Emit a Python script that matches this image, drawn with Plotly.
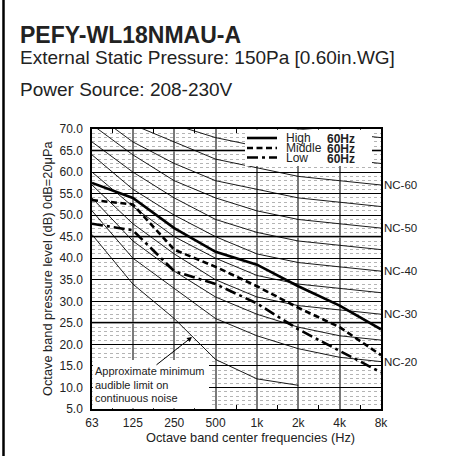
import math
import plotly.graph_objects as go

# ---------------- data ----------------
freqs = [63, 125, 250, 500, 1000, 2000, 4000, 8000]
freq_labels = ["63", "125", "250", "500", "1k", "2k", "4k", "8k"]

high = [57.5, 54.0, 47.0, 41.5, 38.5, 33.5, 29.0, 23.5]
middle = [53.5, 52.5, 42.0, 38.0, 33.5, 28.5, 24.0, 17.5]
low = [48.0, 46.5, 37.0, 34.0, 29.5, 23.5, 18.5, 13.5]

nc_names = ["NC-20", "NC-25", "NC-30", "NC-35", "NC-40", "NC-45",
            "NC-50", "NC-55", "NC-60", "NC-65", "NC-70"]
nc_20 = [51, 40, 33, 26, 22, 19, 17, 16]
nc_25 = [54, 44, 37, 31, 27, 24, 22, 21]
nc_30 = [57, 48, 41, 35, 31, 29, 28, 27]
nc_35 = [60, 52, 45, 40, 36, 34, 33, 32]
nc_40 = [64, 56, 50, 45, 41, 39, 38, 37]
nc_45 = [67, 60, 54, 49, 46, 44, 43, 42]
nc_50 = [71, 64, 58, 54, 51, 49, 48, 47]
nc_55 = [74, 67, 62, 58, 56, 54, 53, 52]
nc_60 = [77, 71, 67, 63, 61, 59, 58, 57]
nc_65 = [80, 75, 71, 68, 66, 64, 63, 62]
nc_70 = [83, 79, 75, 72, 71, 70, 69, 68]
nc_curves = [nc_20, nc_25, nc_30, nc_35, nc_40, nc_45,
             nc_50, nc_55, nc_60, nc_65, nc_70]
nc_labeled = ["NC-20", "NC-30", "NC-40", "NC-50", "NC-60"]

threshold_freqs = [63, 125, 250, 500, 1000, 2000]
threshold = [45.5, 34.0, 26.0, 16.5, 12.0, 10.5]

y_min, y_max = 5, 70

# ---------------- geometry helpers ----------------
W, H = 455, 456
L, R, T, B = 92, 74, 129, 47
PW, PH = W - L - R, H - T - B


def px(x):
    """window x -> paper x"""
    return (x - L) / PW


def py(y):
    """window y -> paper y"""
    return (H - B - y) / PH


FONT = "Liberation Sans, Arial, sans-serif"
TXT = "#222"

fig = go.Figure()

for name, vals in zip(nc_names, nc_curves):
    fig.add_trace(go.Scatter(x=freqs, y=vals, mode="lines", name=name,
                             line=dict(color="black", width=0.9),
                             showlegend=False, hoverinfo="skip"))

fig.add_trace(go.Scatter(x=threshold_freqs, y=threshold, mode="lines",
                         line=dict(color="black", width=0.9),
                         showlegend=False, hoverinfo="skip"))

series = [("High", high, "solid"), ("Middle", middle, "6px,3.5px"),
          ("Low", low, "11px,4px,3px,4px")]
for name, vals, dash in series:
    fig.add_trace(go.Scatter(x=freqs, y=vals, mode="lines", name=name,
                             line=dict(color="black", width=2.6, dash=dash),
                             showlegend=False))

half_octaves = [math.sqrt(a * b) for a, b in zip(freqs[:-1], freqs[1:])]

fig.update_layout(
    width=W, height=H,
    margin=dict(l=L, r=R, t=T, b=B, pad=0),
    paper_bgcolor="white", plot_bgcolor="white",
    font=dict(family=FONT, color=TXT),
    xaxis=dict(type="log", range=[math.log10(63), math.log10(8000)],
               tickmode="array", tickvals=freqs, ticktext=freq_labels,
               showgrid=True, gridcolor="#7a7a7a", gridwidth=2,
               showline=True, linecolor="black", linewidth=1.5, mirror="ticks",
               ticks="", tickfont=dict(size=12, family=FONT, color=TXT),
               ticklabelstandoff=2, zeroline=False,
               minor=dict(tickmode="array", tickvals=half_octaves,
                          ticks="inside", ticklen=4, tickcolor="black",
                          tickwidth=1, showgrid=False)),
    yaxis=dict(range=[y_min, y_max], tickmode="linear", tick0=5, dtick=5,
               tickformat=".1f",
               showgrid=True, gridcolor="black", gridwidth=1,
               minor=dict(dtick=1, showgrid=True, gridcolor="#b4b4b4",
                          griddash="dot", gridwidth=1),
               showline=True, linecolor="black", linewidth=1.5, mirror=True,
               ticks="", tickfont=dict(size=12, family=FONT, color=TXT),
               ticklabelstandoff=5, zeroline=False),
)

shapes = []
# gray heavy gridlines
for v in [25, 45, 65]:
    shapes.append(dict(type="line", xref="paper", yref="y", x0=0, x1=1,
                       y0=v, y1=v, line=dict(color="#9a9a9a", width=2.5),
                       layer="between"))
# legend box
shapes.append(dict(type="rect", xref="paper", yref="paper",
                   x0=px(245), x1=px(372), y0=py(166), y1=py(129.8),
                   fillcolor="white", line=dict(width=0), layer="above"))
# annotation box
shapes.append(dict(type="rect", xref="paper", yref="paper",
                   x0=px(92.8), x1=px(209), y0=py(408.2), y1=py(360),
                   fillcolor="white", line=dict(width=0), layer="above"))
# legend sample lines
leg_y = [138, 148, 157.5]
for (name, vals, dash), yy in zip(series, leg_y):
    shapes.append(dict(type="line", xref="paper", yref="paper",
                       x0=px(247), x1=px(277), y0=py(yy), y1=py(yy),
                       line=dict(color="black", width=2.6, dash=dash),
                       layer="above"))
# left frame line of the figure
shapes.append(dict(type="line", xref="paper", yref="paper",
                   x0=px(3.5), x1=px(3.5), y0=py(H + 20), y1=py(-20),
                   line=dict(color="black", width=2.5), layer="above"))
fig.update_layout(shapes=shapes)

ann = []
# titles
ann.append(dict(text="<b>PEFY-WL18NMAU-A</b>", x=px(18), y=py(34.5),
                font=dict(size=23, family=FONT, color=TXT)))
ann.append(dict(text="External Static Pressure: 150Pa [0.60in.WG]",
                x=px(18), y=py(57), font=dict(size=19, family=FONT, color=TXT)))
ann.append(dict(text="Power Source: 208-230V", x=px(18), y=py(89.5),
                font=dict(size=19, family=FONT, color=TXT)))
for a in ann:
    a.update(xref="paper", yref="paper", xanchor="left", yanchor="middle",
             showarrow=False)

# axis titles
ann.append(dict(text="Octave band pressure level (dB) 0dB=20μPa",
                xref="paper", yref="paper", x=px(47), y=py(269),
                textangle=-90, showarrow=False, xanchor="center",
                yanchor="middle", font=dict(size=12.8, family=FONT, color=TXT)))
ann.append(dict(text="Octave band center frequencies (Hz)",
                xref="paper", yref="paper", x=px(250), y=py(437),
                showarrow=False, xanchor="center", yanchor="middle",
                font=dict(size=12.8, family=FONT, color=TXT)))

# NC labels
for name, vals in zip(nc_names, nc_curves):
    if name in nc_labeled:
        ann.append(dict(text=name, xref="paper", yref="y", x=1.0, y=vals[-1],
                        xanchor="left", yanchor="middle", xshift=1,
                        showarrow=False,
                        font=dict(size=11.5, family=FONT, color=TXT)))

# legend texts
for (name, vals, dash), yy in zip(series, leg_y):
    ann.append(dict(text=name, xref="paper", yref="paper", x=px(285), y=py(yy),
                    xanchor="left", yanchor="middle", showarrow=False,
                    borderpad=0,
                    font=dict(size=12, family=FONT, color=TXT)))
    ann.append(dict(text="<b>60Hz</b>", xref="paper", yref="paper", x=px(326),
                    y=py(yy + 1), xanchor="left", yanchor="middle",
                    showarrow=False, borderpad=0,
                    font=dict(size=12, family=FONT, color=TXT)))

# minimum audible note
for txt, yy in [("Approximate minimum", 371), ("audible limit on", 384.5),
                ("continuous noise", 398)]:
    ann.append(dict(text=txt, xref="paper", yref="paper", x=px(94), y=py(yy),
                    xanchor="left", yanchor="middle", showarrow=False,
                    borderpad=0,
                    font=dict(size=11, family=FONT, color=TXT)))
ann.append(dict(text="", xref="paper", yref="paper", x=px(192), y=py(337),
                ax=-37, ay=29, showarrow=True, arrowhead=2, arrowsize=1,
                arrowwidth=1, arrowcolor="black"))

fig.update_layout(annotations=ann)

fig.write_html("out.html",
               config={"displayModeBar": False},
               post_script="document.body.style.margin='0';"
                           "document.body.style.overflow='hidden';")
